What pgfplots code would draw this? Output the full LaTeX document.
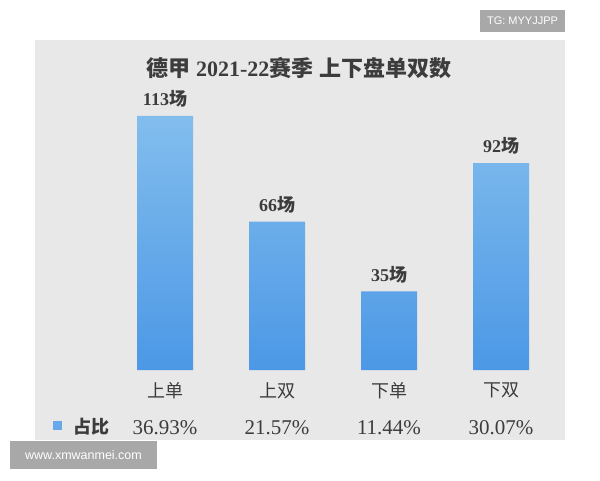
\documentclass[border=0pt]{standalone}
\usepackage{fontspec}
\setmainfont{Liberation Serif}
\newfontfamily\cjk{Noto Sans CJK SC}
\newfontfamily\wmfont{Liberation Sans}
\usepackage{pgfplots}
\pgfplotsset{compat=1.18}
\definecolor{panel}{HTML}{E8E8E8}
\definecolor{txt}{HTML}{3C3C3C}
\definecolor{bartop}{HTML}{82BDED}
\definecolor{barbot}{HTML}{4C98E6}
\definecolor{wmgray}{HTML}{A8A8A8}

\begin{document}
\begin{tikzpicture}
% page and grey panel
\fill[white] (0pt,0pt) rectangle (600pt,-480pt);
\fill[panel] (35pt,-40pt) rectangle (565pt,-440pt);
\node[txt, font=\fontsize{22}{25}\selectfont\bfseries] at (299pt,-68pt)
  {{\cjk 德甲} 2021-22{\cjk 赛季\hspace{6pt}上下盘单双数}};

\begin{axis}[
    at={(35pt,-370pt)}, anchor=south west,
    scale only axis,
    width=530pt, height=330pt,
    xmin=-1.1607, xmax=3.5714,
    ymin=0, ymax=146.667,
    axis line style={draw=none},
    ytick=\empty,
    xtick={0,1,2,3},
    xticklabels={上单,上双,下单,下双},
    xticklabel style={font=\cjk\fontsize{18}{20}\selectfont, text=txt, yshift=-9pt},
    major tick length=0pt,
    /pgf/number format/assume math mode=true,
    ybar, bar width=56pt,
    clip=false,
    nodes near coords={\pgfmathprintnumber{\pgfplotspointmeta}{\cjk 场}},
    nodes near coords style={font=\fontsize{18}{20}\selectfont\bfseries, text=txt, yshift=5pt},
  ]
  \addplot[draw=none, top color=bartop, bottom color=barbot]
    coordinates {(0,113) (1,66) (2,35) (3,92)};

  % share row
  \foreach \i/\p in {0/36.93,1/21.57,2/11.44,3/30.07}{
    \edef\tmp{\noexpand\node[text=txt, font=\noexpand\fontsize{21}{24}\noexpand\selectfont]
      at (axis cs:\i,-25.8) {\p\noexpand\%};}
    \tmp
  }
\end{axis}

% legend of the share row
\fill[barbot!85!white] (53pt,-421pt) rectangle (62pt,-430pt);
\node[txt, font=\cjk\bfseries\fontsize{18}{20}\selectfont, anchor=west] at (70pt,-427pt) {占比};

% watermarks
\fill[wmgray] (480pt,-10pt) rectangle (565pt,-32pt);
\node[white, font=\wmfont\fontsize{11}{13}\selectfont] at (522.5pt,-21pt) {TG: MYYJJPP};
\fill[wmgray] (10pt,-441pt) rectangle (157pt,-469pt);
\node[white, font=\wmfont\fontsize{12.5}{14}\selectfont] at (83.5pt,-455pt) {www.xmwanmei.com};
\end{tikzpicture}
\end{document}
